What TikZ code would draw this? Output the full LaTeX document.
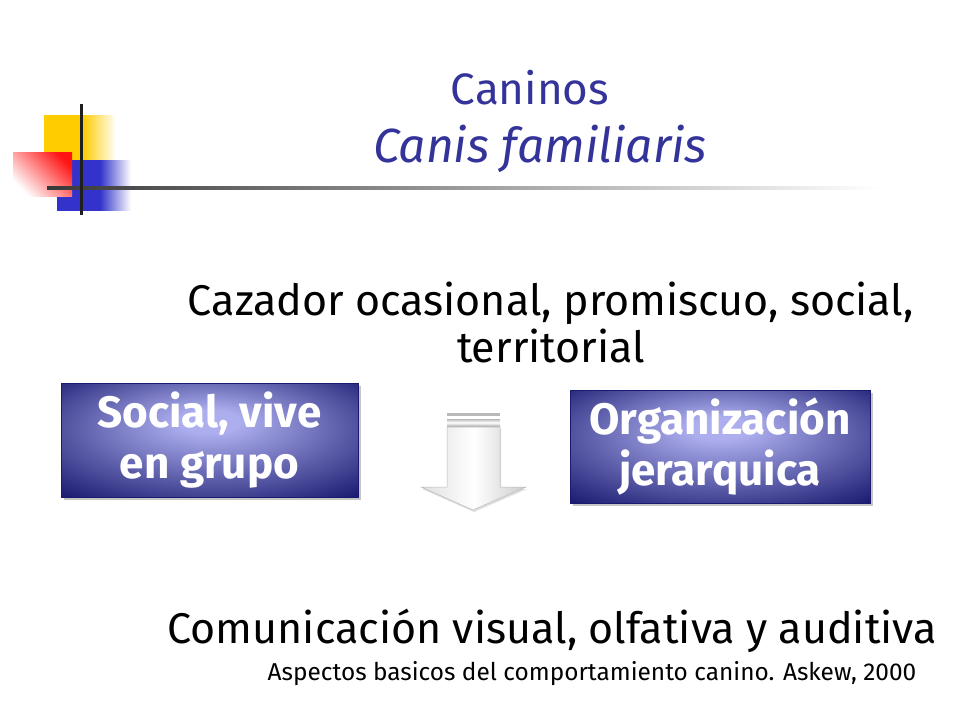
\documentclass[tikz,border=0pt]{standalone}
\usepackage{fontspec}
\setmainfont{Fira Sans}
\usetikzlibrary{shadows,shadings}
\definecolor{titleblue}{RGB}{51,51,153}
\definecolor{boxdark}{RGB}{26,26,112}
\definecolor{boxlite}{RGB}{172,174,238}
\definecolor{logoyellow}{RGB}{255,204,0}
\definecolor{logoblue}{RGB}{51,51,204}
\definecolor{logored}{RGB}{255,20,20}
\pgfdeclarehorizontalshading{yfade}{100bp}{color(0bp)=(logoyellow);color(25bp)=(logoyellow);color(52bp)=(logoyellow);color(75bp)=(white);color(100bp)=(white)}
\pgfdeclarehorizontalshading{bfade}{100bp}{color(0bp)=(logoblue);color(25bp)=(logoblue);color(54bp)=(logoblue);color(75bp)=(white);color(100bp)=(white)}
\pgfdeclareradialshading{boxshade}{\pgfpoint{0bp}{9bp}}{color(0bp)=(boxlite);color(5bp)=(boxlite);color(37bp)=(boxdark);color(50bp)=(boxdark)}
\tikzset{
  titletext/.style={text=titleblue, anchor=base, inner sep=0pt},
  bodytext/.style={text=black, anchor=base, inner sep=0pt, align=center},
  bluebox/.style={draw=boxdark, line width=0.8pt, shading=boxshade, text=white,
    font=\fontsize{44}{51}\selectfont\bfseries, align=center,
    drop shadow={shadow xshift=2.5pt, shadow yshift=-2.5pt, opacity=0.45}},
}
\begin{document}
\begin{tikzpicture}[x=1pt,y=-1pt]
\useasboundingbox[fill=white] (0,0) rectangle (960,720);
% logo
\shade[shading=yfade] (44,115) rectangle (116,160);
\shade[shading=bfade] (57,160) rectangle (131,210);
\shade[top color=logored, bottom color=white, shading angle=-45] (13,152) rectangle (72,196);
\shade[left color=black!78, right color=white] (47,186.5) rectangle (880,189.5);
\fill[black!88] (79.5,104) rectangle (82.5,215);
% titles
\node[titletext, font=\fontsize{44}{50}\selectfont] (title) at (530,104) {Caninos};
\node[titletext, font=\fontsize{48}{54}\selectfont\itshape] (latin) at (540,162) {Canis familiaris};
% body
\node[bodytext, font=\fontsize{43}{47}\selectfont] (traits) at (551,362) {Cazador ocasional, promiscuo, social,\\territorial};
% boxes
\node[bluebox, minimum width=297pt, minimum height=114pt] (social) at (209.5,440) {Social, vive\\en grupo};
\node[bluebox, minimum width=300pt, minimum height=113pt] (org) at (720,446.5) {Organización\\jerarquica};
% arrow
\fill[gray!55] (447,412.5) rectangle (500,415.5);
\shade[top color=gray!55, bottom color=gray!55, middle color=white] (447,419) rectangle (500,426);
\shade[left color=gray!25, right color=gray!40, middle color=white, draw=gray!55, line width=0.5pt,
  drop shadow={shadow xshift=1pt, shadow yshift=-2pt, opacity=0.25}]
  (447,427) -- (500,427) -- (500,487) -- (526,487) -- (473,510) -- (421,487) -- (447,487) -- cycle;
% bottom
\node[bodytext, font=\fontsize{43}{46}\selectfont] (comm) at (552,643) {Comunicación visual, olfativa y auditiva};
\node[bodytext, font=\fontsize{24.4}{28}\selectfont] (ref) at (592,680) {Aspectos basicos del comportamiento canino. Askew, 2000};
\end{tikzpicture}
\end{document}
